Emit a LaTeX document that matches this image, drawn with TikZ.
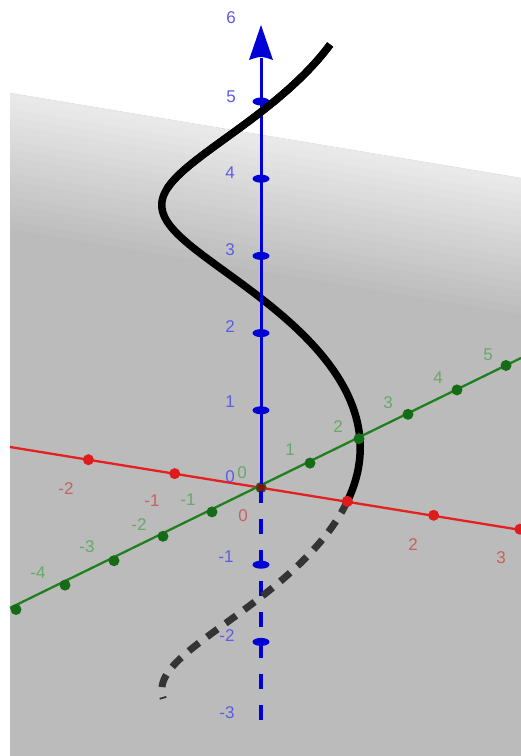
\documentclass[tikz,border=0pt]{standalone}
\usepackage{fontspec}
\setmainfont{Liberation Sans}
\definecolor{planegray}{RGB}{187,187,187}
\definecolor{redaxis}{RGB}{228,32,32}
\definecolor{reddot}{RGB}{222,28,28}
\definecolor{greenaxis}{RGB}{32,128,32}
\definecolor{greendot}{RGB}{22,108,22}
\definecolor{blueaxis}{RGB}{0,0,215}
\definecolor{zlab}{RGB}{92,92,228}
\definecolor{xlab}{RGB}{200,96,96}
\definecolor{ylab}{RGB}{104,168,104}
\definecolor{dashcurve}{RGB}{52,52,52}
\begin{document}
\begin{tikzpicture}[x=1pt,y=-1pt,
  lab/.style={inner sep=0pt, font=\fontsize{17}{19}\selectfont},
  zl/.style={lab, text=zlab},
  xl/.style={lab, text=xlab},
  yl/.style={lab, text=ylab},
  curvestyle/.style={line width=7.5pt, black},
  hidcurve/.style={line width=7pt, dashcurve, dash pattern=on 13pt off 10pt},
  zaxis/.style={line width=3pt, blueaxis},
  xaxis/.style={line width=2.3pt, redaxis},
  yaxis/.style={line width=2.3pt, greenaxis}]
\useasboundingbox (0,0) rectangle (521,756);
\fill[white] (0,0) rectangle (521,756);
% plane
\fill[planegray] (10,93) -- (521,178) -- (521,756) -- (10,756) -- cycle;
\foreach \i in {0,...,17} {
  \pgfmathtruncatemacro\p{32+4*\i}
  \fill[planegray!\p!white] (10,{93+8*\i}) -- (521,{178+8*\i}) -- (521,{178+8*\i+9}) -- (10,{93+8*\i+9}) -- cycle;
}
% named points
\coordinate (O) at (261,487.5);
\coordinate (xa) at (10,447);
\coordinate (xb) at (521,530);
\coordinate (ya) at (10,608);
\coordinate (yb) at (521,358);
\coordinate (ztop) at (261,58);
\coordinate (zbot) at (261,720);
% helix, visible part
\draw[curvestyle] plot[domain=0:6, samples=150, smooth]
  ({261+86.3*cos(\x r)+49*sin(\x r)}, {487.5+13.9*cos(\x r)-24.4*sin(\x r)-77.2*\x});
% x axis
\draw[xaxis] (xa) -- (xb);
\foreach \k in {-2,...,3}
  \fill[reddot] ({261+86.3*\k},{487.5+13.9*\k}) circle (5.5pt);
% y axis
\draw[yaxis] (ya) -- (yb);
\foreach \k in {-5,...,5}
  \fill[greendot] ({261+49*\k},{487.5-24.4*\k}) circle (5.5pt);
% z axis
\draw[zaxis] (O) -- (ztop);
\fill[blueaxis] (249,60) .. controls (261,56) .. (273,60) -- (261,25) -- cycle;
\draw[zaxis, line width=3.5pt, dash pattern=on 15pt off 16pt] (O) -- (zbot);
\foreach \k in {-2,-1,1,2,3,4,5}
  \fill[blueaxis] (261,{487.5-77.2*\k}) ellipse (8.5pt and 4pt);
% helix part in front of z axis
\draw[curvestyle] plot[domain=4:6, samples=60, smooth]
  ({261+86.3*cos(\x r)+49*sin(\x r)}, {487.5+13.9*cos(\x r)-24.4*sin(\x r)-77.2*\x});
% hidden part
\draw[hidcurve] plot[domain=0:-2.8, samples=80, smooth]
  ({261+86.3*cos(\x r)+49*sin(\x r)}, {487.5+13.9*cos(\x r)-24.4*sin(\x r)-77.2*\x});
\fill[reddot] (347.3,501.4) circle (5.5pt);
\fill[reddot!60!black] (O) circle (4pt);
% z labels
\node[zl] (z6) at (231,18) {6};
\node[zl] (z5) at (231,97) {5};
\node[zl] (z4) at (230,173) {4};
\node[zl] (z3) at (230,250) {3};
\node[zl] (z2) at (230,327) {2};
\node[zl] (z1) at (230,402) {1};
\node[zl] (zm1) at (226,557) {-1};
\node[zl] (zm2) at (227,636) {-2};
\node[zl] (zm3) at (227,713) {-3};
\node[zl] (z0) at (230,477) {0};
% x labels
\node[xl] (xm2) at (66,489) {-2};
\node[xl] (xm1) at (152,501) {-1};
\node[xl] (x0) at (243,516) {0};
\node[xl] (x2) at (413,545) {2};
\node[xl] (x3) at (501,558) {3};
% y labels
\node[yl] (y0) at (242,473) {0};
\node[yl] (y1) at (290,450) {1};
\node[yl] (y2) at (338,427) {2};
\node[yl] (y3) at (388,403) {3};
\node[yl] (y4) at (438,378) {4};
\node[yl] (y5) at (488,355) {5};
\node[yl] (ym1) at (188,500) {-1};
\node[yl] (ym2) at (139,525) {-2};
\node[yl] (ym3) at (87,547) {-3};
\node[yl] (ym4) at (38,573) {-4};
\end{tikzpicture}
\end{document}
